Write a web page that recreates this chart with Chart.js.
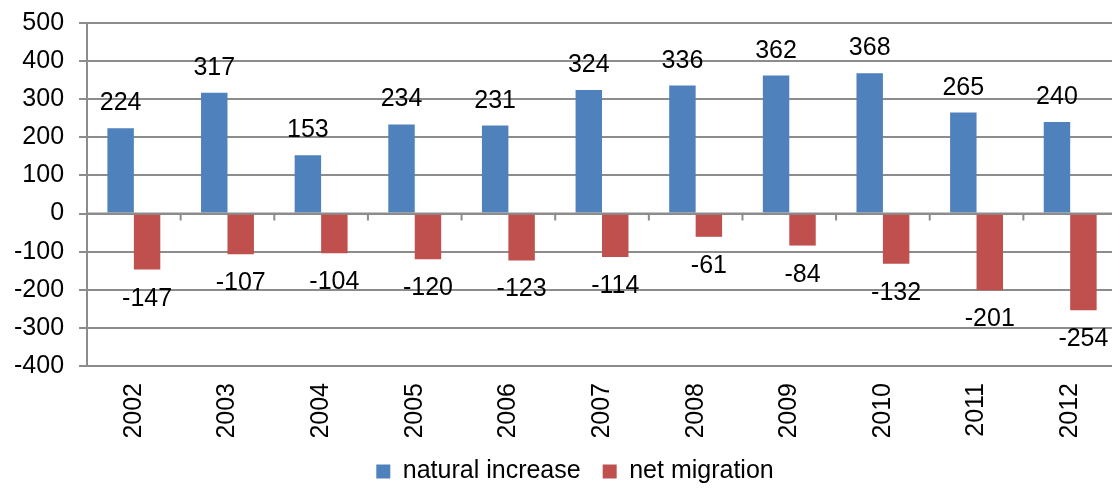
<!DOCTYPE html>
<html>
<head>
<meta charset="utf-8">
<script src="https://cdn.jsdelivr.net/npm/chart.js@4/dist/chart.umd.min.js"></script>
<style>
  html, body { margin: 0; padding: 0; background: #fff; overflow: hidden; }
  #wrap { width: 1174px; height: 496px; position: relative; }
</style>
</head>
<body>
<div id="wrap"><canvas id="chart"></canvas></div>
<script>
// Values
const years = ['2002', '2003', '2004', '2005', '2006', '2007', '2008', '2009', '2010', '2011', '2012'];
const naturalIncrease = [224, 317, 153, 234, 231, 324, 336, 362, 368, 265, 240];
const netMigration = [-147, -107, -104, -120, -123, -114, -61, -84, -132, -201, -254];
const seriesNames = ['natural increase', 'net migration'];

const FONT = "'Liberation Sans', Arial, sans-serif";
const GRID = '#8c8c8c';
const FS = 25;

// Value labels: above positive bars, below negative bars
const valueLabels = {
  id: 'valueLabels',
  afterDatasetsDraw(chart) {
    const ctx = chart.ctx;
    ctx.save();
    ctx.font = FS + 'px ' + FONT;
    ctx.fillStyle = '#000';
    ctx.textAlign = 'center';
    ctx.textBaseline = 'alphabetic';
    chart.data.datasets.forEach((ds, i) => {
      chart.getDatasetMeta(i).data.forEach((bar, j) => {
        const v = ds.data[j];
        const ty = v >= 0 ? bar.y - 18 : bar.y + 36;
        ctx.fillText(String(v), bar.x, ty);
      });
    });
    ctx.restore();
  }
};

// Category tick marks sit on the zero line
const zeroTicks = {
  id: 'zeroTicks',
  afterDatasetsDraw(chart) {
    const { ctx, scales: { x, y } } = chart;
    const y0 = y.getPixelForValue(0);
    ctx.save();
    ctx.strokeStyle = GRID;
    ctx.lineWidth = 2;
    ctx.beginPath();
    ctx.moveTo(x.left, y0);
    ctx.lineTo(x.right, y0);
    for (let i = 1; i <= years.length; i++) {
      const px = x.getPixelForValue(i - 0.5);
      ctx.moveTo(px, y0);
      ctx.lineTo(px, y0 + 7);
    }
    ctx.stroke();
    ctx.restore();
  }
};

// nudge the legend a bit to the right, like the original
const legendShift = {
  id: 'legendShift',
  afterLayout(chart) {
    chart.legend.left += 17;
    chart.legend.right += 17;
  }
};

new Chart(document.getElementById('chart'), {
  type: 'bar',
  data: {
    labels: years,
    datasets: [
      { label: seriesNames[0], data: naturalIncrease, backgroundColor: '#4F81BD' },
      { label: seriesNames[1], data: netMigration, backgroundColor: '#C0504D' }
    ]
  },
  options: {
    responsive: true,
    maintainAspectRatio: false,
    animation: false,
    categoryPercentage: 0.565,
    barPercentage: 1,
    layout: { padding: { top: 23, right: 57, left: -1, bottom: 2 } },
    plugins: {
      legend: {
        position: 'bottom',
        labels: {
          font: { family: FONT, size: FS },
          color: '#000',
          boxWidth: 14,
          boxHeight: 14,
          padding: 22
        }
      },
      tooltip: { enabled: false }
    },
    scales: {
      x: {
        grid: { display: false },
        border: { display: false },
        afterFit: (scale) => { scale.height = 71; },
        ticks: {
          font: { family: FONT, size: FS },
          color: '#000',
          minRotation: 90,
          maxRotation: 90,
          padding: 9
        }
      },
      y: {
        min: -400,
        max: 500,
        // top label is allowed to poke above the plot, the layout padding handles it
        afterFit: (scale) => { scale.paddingTop = 0; },
        ticks: {
          stepSize: 100,
          font: { family: FONT, size: FS },
          color: '#000',
          padding: 15
        },
        grid: { color: GRID, lineWidth: 2, tickLength: 8 },
        border: { color: GRID, width: 2 }
      }
    }
  },
  plugins: [valueLabels, zeroTicks, legendShift]
});
</script>
</body>
</html>
